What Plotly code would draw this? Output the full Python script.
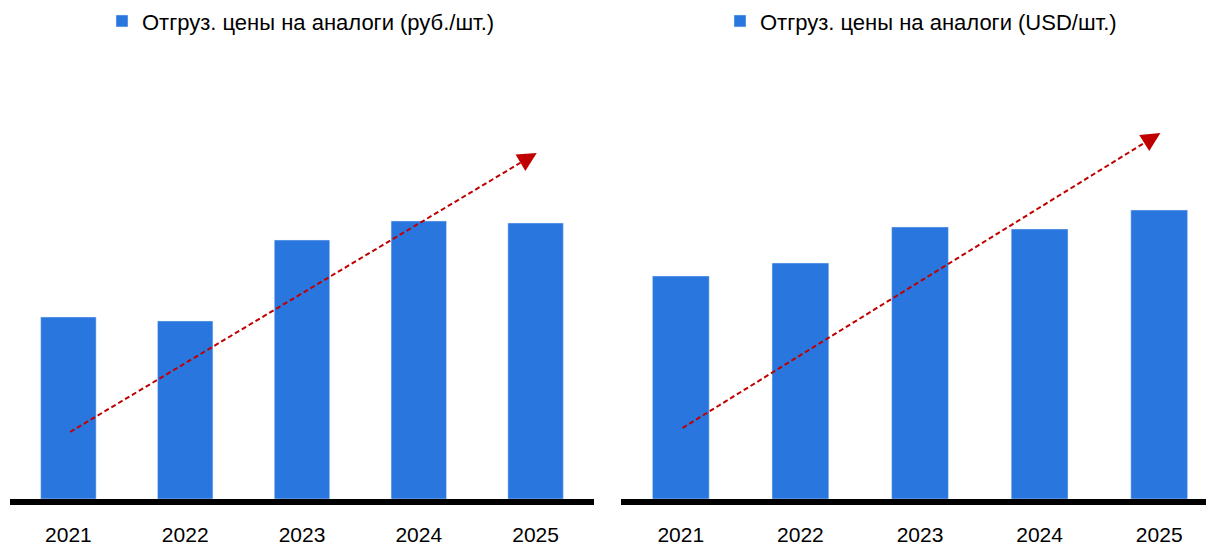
import plotly.graph_objects as go
from plotly.subplots import make_subplots

years = ["2021", "2022", "2023", "2024", "2025"]
rub_values = [182, 178, 259, 278, 276]
usd_values = [223, 236, 272, 270, 289]
rub_name = "Отгруз. цены на аналоги (руб./шт.)"
usd_name = "Отгруз. цены на аналоги (USD/шт.)"
# trend arrows: (category index, value) start / end
rub_trend = [(0.015, 67), (4.01, 346)]
usd_trend = [(0.014, 71), (4.01, 366)]

BAR = "#2976DE"
RED = "#C00000"
FONT = "Liberation Sans, Arial, sans-serif"

fig = make_subplots(rows=1, cols=2)
fig.add_trace(go.Bar(x=years, y=rub_values, name=rub_name, marker_color=BAR,
                     showlegend=True, legend="legend"), 1, 1)
fig.add_trace(go.Bar(x=years, y=usd_values, name=usd_name, marker_color=BAR,
                     showlegend=True, legend="legend2"), 1, 2)

# page body has an 8px margin, so the figure is drawn 8px smaller
W, H = 1206, 539
fig.update_layout(
    width=W, height=H,
    margin=dict(l=0, r=0, t=0, b=48, autoexpand=False),
    plot_bgcolor="white", paper_bgcolor="white",
    bargap=0.525,
    font=dict(family=FONT, color="black", size=22),
    xaxis=dict(domain=[2 / W, 586 / W], range=[-0.5, 4.5]),
    xaxis2=dict(domain=[613 / W, 1.0], range=[-0.5, 4.458]),
    legend=dict(x=94 / W, xanchor="left", y=1.016, yanchor="top", font=dict(size=22, family=FONT),
                bgcolor="rgba(0,0,0,0)"),
    legend2=dict(x=712 / W, xanchor="left", y=1.016, yanchor="top", font=dict(size=22, family=FONT),
                 bgcolor="rgba(0,0,0,0)"),
)
fig.update_xaxes(showline=True, linewidth=6, linecolor="black", ticks="", showgrid=False,
                 tickfont=dict(size=21, family=FONT), ticklabelstandoff=12, fixedrange=True)
fig.update_yaxes(visible=False, range=[0, 491], showgrid=False, zeroline=False)

for (xr, yr), trend in (("x", "y"), rub_trend), (("x2", "y2"), usd_trend):
    (x0, y0), (x1, y1) = trend
    f = 0.965
    xm, ym = x0 + f * (x1 - x0), y0 + f * (y1 - y0)
    fig.add_shape(type="line", xref=xr, yref=yr, x0=x0, y0=y0, x1=xm, y1=ym,
                  line=dict(color=RED, width=2, dash="5px,3px"))
    fig.add_annotation(xref=xr, yref=yr, axref=xr, ayref=yr, x=x1, y=y1, ax=xm, ay=ym,
                       text="", showarrow=True, arrowhead=2, arrowsize=1.9, arrowwidth=2,
                       arrowcolor=RED)

fig.write_html("out.html")
